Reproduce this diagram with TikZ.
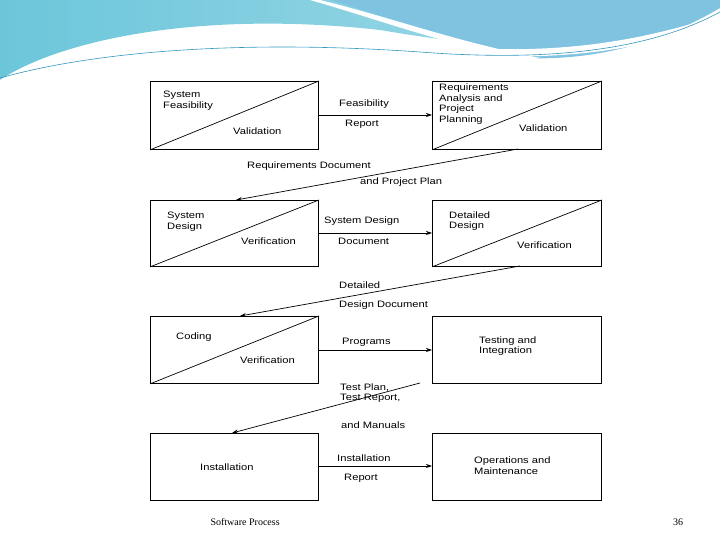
\documentclass[tikz,border=0pt]{standalone}
\usepackage{fontspec}
\setsansfont{Liberation Sans}
\newfontfamily\footfont{Liberation Serif}
\usetikzlibrary{arrows.meta}
\definecolor{bA}{HTML}{6CC6DA}
\definecolor{bB}{HTML}{A8DDEA}
\definecolor{bC}{HTML}{7FC3E0}
\begin{document}
\begin{tikzpicture}[x=1pt,y=-1pt,
  box/.style={draw,line width=0.9pt},
  lbl/.style={font=\sffamily\fontsize{9.3}{10.7}\selectfont,align=left,anchor=west,inner sep=0pt,xscale=1.2,transform shape},
  arr/.style={-{Stealth[length=6pt,width=4pt]},line width=0.7pt}]
\useasboundingbox (0,0) rectangle (720,540);
% banner
\shade[left color=bA,right color=bB] (0,0) -- (720,0) -- (720,8) .. controls (600,60) and (500,50) .. (380,30) .. controls (200,10) and (60,40) .. (0,80) -- cycle;
\fill[bC] (330,0) -- (720,0) -- (720,8) .. controls (640,55) and (570,60) .. (520,58) .. controls (450,40) and (380,15) .. (330,0) -- cycle;
\fill[white] (0,80) .. controls (60,45) and (200,25) .. (380,40) .. controls (500,55) and (600,55) .. (720,15) -- (720,22) .. controls (600,65) and (500,60) .. (380,48) .. controls (200,35) and (60,55) .. (0,82) -- cycle;
\fill[white] (320,0) .. controls (400,20) and (450,40) .. (540,58) -- (525,60) .. controls (430,40) and (380,20) .. (310,0) -- cycle;
\draw[cyan!50!teal,line width=0.6pt] (0,78) .. controls (100,50) and (250,40) .. (420,52) .. controls (550,62) and (650,50) .. (720,12);
% boxes
\node[box,minimum width=168pt,minimum height=68pt,anchor=north west] (a1) at (150,81) {};
\node[box,minimum width=169pt,minimum height=68pt,anchor=north west] (b1) at (432,81) {};
\node[box,minimum width=168pt,minimum height=66pt,anchor=north west] (a2) at (150,200) {};
\node[box,minimum width=169pt,minimum height=66pt,anchor=north west] (b2) at (432,200) {};
\node[box,minimum width=168pt,minimum height=67pt,anchor=north west] (a3) at (150,316) {};
\node[box,minimum width=169pt,minimum height=67pt,anchor=north west] (b3) at (432,316) {};
\node[box,minimum width=168pt,minimum height=67pt,anchor=north west] (a4) at (150,433) {};
\node[box,minimum width=169pt,minimum height=67pt,anchor=north west] (b4) at (432,433) {};
\foreach \n in {a1,b1,a2,b2,a3} \draw[line width=0.7pt] (\n.south west) -- (\n.north east);
% box texts
\node[lbl] (t1) at (163,101) {System\\Feasibility};
\node[lbl] (t2) at (233,131) {Validation};
\node[lbl] (t3) at (439,104) {Requirements\\Analysis and\\Project\\Planning};
\node[lbl] (t4) at (519,128) {Validation};
\node[lbl] (t5) at (167,222) {System\\Design};
\node[lbl] (t6) at (241,241) {Verification};
\node[lbl] (t7) at (449,221) {Detailed\\Design};
\node[lbl] (t8) at (517,245) {Verification};
\node[lbl] (t9) at (176,337) {Coding};
\node[lbl] (t10) at (240,360) {Verification};
\node[lbl] (t11) at (479,346) {Testing and\\Integration};
\node[lbl] (t12) at (200,467) {Installation};
\node[lbl] (t13) at (474,466) {Operations and\\Maintenance};
% arrows
\draw[arr] (a1.east |- 0,115) -- (b1.west |- 0,115);
\draw[arr] (a2.east |- 0,233) -- (b2.west |- 0,233);
\draw[arr] (a3.east |- 0,350) -- (b3.west |- 0,350);
\draw[arr] (a4.east |- 0,466) -- (b4.west |- 0,466);
\coordinate (d1s) at (518,149); \coordinate (d1e) at (236,200);
\coordinate (d2s) at (520,266); \coordinate (d2e) at (240,316);
\coordinate (d3s) at (420,383); \coordinate (d3e) at (232,433);
\draw[arr] (d1s) -- (d1e);
\draw[arr] (d2s) -- (d2e);
\draw[arr] (d3s) -- (d3e);
% arrow labels
\node[lbl] (l1) at (339,104) {Feasibility};
\node[lbl] (l2) at (345,124) {Report};
\node[lbl] (l3) at (247,166) {Requirements Document};
\node[lbl] (l4) at (360,182) {and Project Plan};
\node[lbl] (l5) at (324,221) {System Design};
\node[lbl] (l6) at (338,241) {Document};
\node[lbl] (l7) at (339,285) {Detailed};
\node[lbl] (l8) at (339,305) {Design Document};
\node[lbl] (l9) at (342,342) {Programs};
\node[lbl] (l10) at (340,393) {Test Plan,\\Test Report,};
\node[lbl] (l11) at (341,425) {and Manuals};
\node[lbl] (l12) at (337,458) {Installation};
\node[lbl] (l13) at (344,478) {Report};
% footer
\node[font=\footfont\fontsize{10}{11}\selectfont,anchor=west] (f1) at (207,522) {Software Process};
\node[font=\footfont\fontsize{10}{11}\selectfont] (f2) at (678,522) {36};
\end{tikzpicture}
\end{document}
